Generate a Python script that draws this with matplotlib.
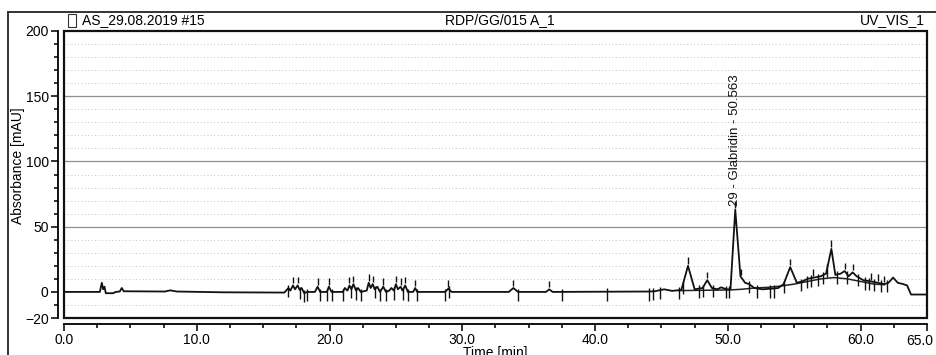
import numpy as np
import matplotlib
matplotlib.use("Agg")
import matplotlib.pyplot as plt
from matplotlib.lines import Line2D
from matplotlib.patches import Rectangle
from matplotlib.ticker import MultipleLocator, FixedLocator

plt.rcParams['font.family'] = ['Liberation Sans', 'DejaVu Sans']

# Chromatogram trace, UV_VIS_1 channel (time in min, absorbance in mAU)
trace_t = [0.0, 2.7, 2.85, 2.95, 3.05, 3.15, 3.7, 3.9, 4.2, 4.35, 4.5, 7.6, 8.0, 8.5,
           12.0, 16.6, 16.9, 17.05, 17.25, 17.4, 17.6, 17.75, 17.9, 18.1, 18.3, 18.9,
           19.1, 19.3, 19.8, 19.95, 20.15, 21.0, 21.15, 21.35, 21.5, 21.65, 21.8, 22.0,
           22.15, 22.35, 22.8, 22.95, 23.1, 23.25, 23.4, 23.6, 23.8, 24.05, 24.25, 24.5,
           24.65, 24.85, 25.0, 25.15, 25.35, 25.5, 25.7, 25.9, 26.3, 26.45, 26.6, 28.7,
           28.95, 29.2, 33.5, 33.85, 34.2, 36.3, 36.55, 36.8, 44.0, 44.5, 45.2, 45.8,
           46.5, 47.0, 47.5, 48.1, 48.45, 48.8, 49.2, 49.5, 49.9, 50.2, 50.56, 50.95,
           51.3, 51.6, 52.0, 52.6, 53.3, 53.8, 54.2, 54.7, 55.2, 55.6, 56.0, 56.5, 57.0,
           57.4, 57.8, 58.1, 58.5, 58.8, 59.1, 59.4, 59.7, 60.2, 60.8, 61.3, 61.8, 62.1,
           62.45, 62.8, 63.2, 63.5, 63.8, 65.0]
trace_v = [0.0, 0.0, 7.0, 2.0, 4.0, -1.0, -1.0, 0.0, 0.3, 3.0, 0.5, 0.3, 1.2, 0.3,
           -0.3, -0.5, 3.0, 1.0, 5.0, 2.0, 5.0, 1.5, 3.0, -1.0, 0.0, 0.0,
           4.0, 0.0, 0.0, 4.0, 0.0, 0.0, 3.0, 1.0, 5.0, 2.0, 6.0, 1.0,
           3.0, 0.0, 1.0, 7.0, 3.0, 6.0, 2.0, 4.0, 0.0, 4.0, 0.0, 1.0,
           3.0, 1.0, 6.0, 2.0, 4.0, 1.0, 5.0, 0.0, 0.0, 3.0, 0.0, 0.0,
           2.5, 0.0, 0.0, 3.0, 0.0, 0.0, 2.0, 0.0, 0.3, 0.5, 2.0, 0.8,
           1.5, 20.0, 2.0, 3.0, 9.0, 3.0, 2.0, 3.5, 2.0, 2.0, 63.0, 12.0,
           7.0, 6.0, 3.0, 2.0, 2.5, 3.0, 6.0, 19.0, 7.0, 8.0, 10.0, 11.0, 12.0,
           14.0, 33.0, 13.0, 14.0, 16.0, 12.0, 15.0, 12.0, 9.0, 8.0, 7.0, 6.0, 7.0,
           11.0, 7.0, 6.0, 5.0, -2.0, -2.0]

# Integration baselines under the late-eluting peaks
base_t = [46.3, 50.1, 51.0, 52.0, 53.0, 54.0, 55.0, 56.0, 57.0, 58.0, 59.0, 60.0, 61.0, 61.8]
base_v = [1.0, 1.5, 2.0, 3.0, 3.5, 4.5, 6.0, 8.0, 10.0, 11.0, 10.0, 8.0, 6.0, 5.5]

# Peak apex marks and peak delimiters from the integration
apex_times = [17.25, 17.6, 19.1, 19.95, 21.5, 21.8, 22.95, 23.25, 24.05, 25.0, 25.35,
              25.7, 26.45, 28.95, 33.85, 36.55, 47.0, 48.45, 50.56, 51.0, 54.7, 56.4,
              57.8, 58.8, 59.4, 60.8, 61.3, 61.8]
bound_times = [16.9, 17.75, 18.1, 18.3, 19.3, 19.8, 20.15, 21.0, 21.65, 22.0, 22.35,
               23.4, 23.8, 24.25, 24.85, 25.5, 25.9, 26.6, 28.7, 29.0, 34.2, 37.5,
               40.9, 44.1, 44.4, 44.9, 46.3, 46.6, 47.8, 48.1, 48.9, 49.9, 50.1, 51.6,
               52.2, 53.2, 53.5, 54.2, 55.5, 56.0, 56.3, 56.8, 57.2, 57.5, 58.2, 59.0,
               59.8, 60.3, 60.6, 61.0, 61.5, 62.0]

peak_name = "29 - Glabridin - 50.563"
peak_time = 50.563
peak_height = 63.0

x_major = [0, 10, 20, 30, 40, 50, 60, 65]
x_labels = ["0.0", "10.0", "20.0", "30.0", "40.0", "50.0", "60.0", "65.0"]
y_major = [-20, 0, 50, 100, 150, 200]

fig = plt.figure(figsize=(9.37, 3.55), dpi=100)
ax = fig.add_axes([0.0683, 0.1042, 0.921, 0.8085])

# grid: dotted every 10 mAU, solid every 50 mAU
for yv in range(-10, 200, 10):
    if yv % 50 == 0 and yv > 0:
        ax.axhline(yv, color="#8f8f8f", lw=0.9, zorder=1)
    elif yv != 0:
        ax.axhline(yv, color="#c4c4c4", lw=0.7, ls=(0, (1, 2.5)), zorder=1)

ax.plot(base_t, base_v, color="#222222", lw=1.1, zorder=2)
ax.plot(trace_t, trace_v, color="#111111", lw=1.3, zorder=3)

apex_v = np.interp(apex_times, trace_t, trace_v)
ax.vlines(apex_times, apex_v + 1.5, apex_v + 6.5, color="#111111", lw=1.0, zorder=3)
bound_v = np.interp(bound_times, trace_t, trace_v)
ax.vlines(bound_times, bound_v - 7, bound_v + 2.5, color="#111111", lw=1.0, zorder=3)

ax.text(peak_time, peak_height + 3, peak_name, rotation=90, ha="center", va="bottom",
        fontsize=9.5, color="#111111", zorder=4)

ax.set_xlim(0, 65)
ax.set_ylim(-20, 200)
ax.xaxis.set_major_locator(FixedLocator(x_major))
# last time label is drawn separately so it stays on the page
ax.set_xticklabels(x_labels[:-1] + [""])
ax.annotate(x_labels[-1], xy=(x_major[-1], 0), xycoords=("data", "axes fraction"),
            xytext=(-7, -16), textcoords="offset pixels", ha="center", va="top",
            fontsize=10, annotation_clip=False)
ax.xaxis.set_minor_locator(MultipleLocator(2.5))
ax.yaxis.set_major_locator(FixedLocator(y_major))
ax.yaxis.set_minor_locator(MultipleLocator(10))
ax.tick_params(axis="both", which="major", labelsize=10, length=5, width=1.2, color="#111111")
ax.tick_params(axis="both", which="minor", length=3, width=1.2, color="#111111")
ax.tick_params(axis="x", pad=2)
ax.tick_params(axis="y", pad=2)

for side in ["top", "right"]:
    ax.spines[side].set_visible(False)
for side in ["left", "bottom"]:
    ax.spines[side].set_position(("outward", 4))
    ax.spines[side].set_linewidth(1.3)
ax.add_patch(Rectangle((0, 0), 1, 1, transform=ax.transAxes, fill=False,
                       lw=1.6, ec="#111111", clip_on=False, zorder=5))

ax.set_xlabel("Time [min]", fontsize=10, labelpad=-1)
ax.set_ylabel("Absorbance [mAU]", fontsize=10)
ax.yaxis.set_label_coords(-0.045, 0.53)

# report header
fig.text(0.088, 0.945, "AS_29.08.2019 #15", fontsize=10, va="center", ha="left")
fig.text(0.533, 0.945, "RDP/GG/015 A_1", fontsize=10, va="center", ha="center")
fig.text(0.987, 0.945, "UV_VIS_1", fontsize=10, va="center", ha="right")
fig.add_artist(Rectangle((0.073, 0.925), 0.008, 0.035, transform=fig.transFigure,
                         fill=False, lw=0.8, ec="#333333"))
fig.add_artist(Line2D([0.009, 1.0], [0.966, 0.966], transform=fig.transFigure,
                      color="#333333", lw=1.4))
fig.add_artist(Line2D([0.009, 0.009], [0.0, 0.966], transform=fig.transFigure,
                      color="#333333", lw=1.4))

fig.savefig("out.png", dpi=100)
